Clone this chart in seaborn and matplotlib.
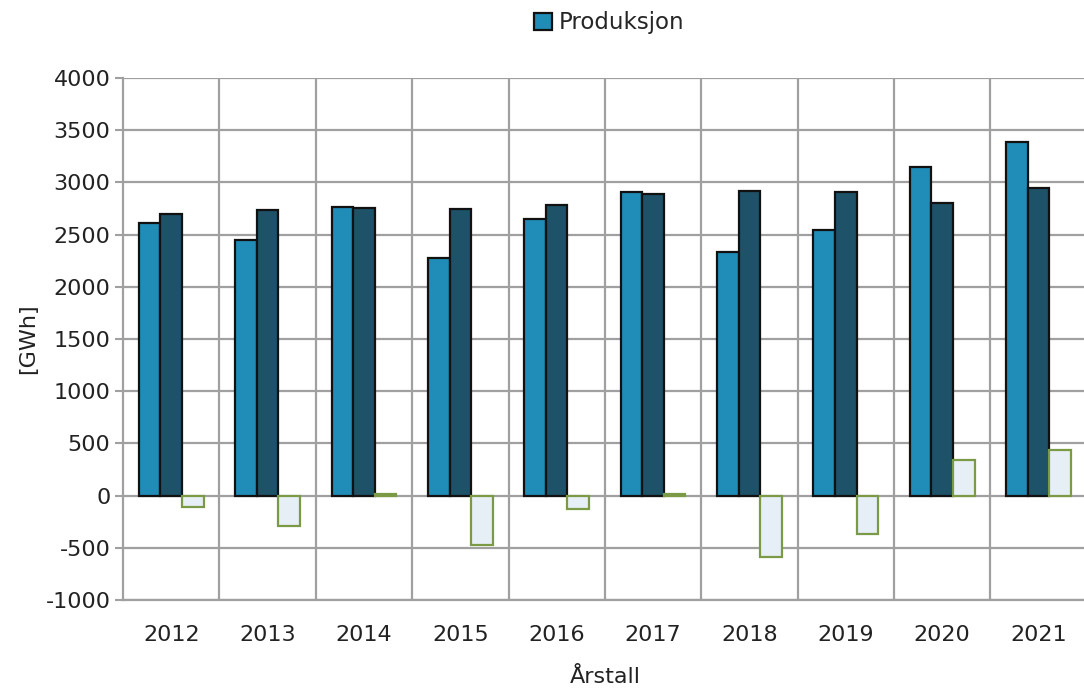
import matplotlib
matplotlib.use("Agg")
import matplotlib.pyplot as plt
import seaborn as sns
import pandas as pd
import numpy as np

years = ["2012", "2013", "2014", "2015", "2016", "2017", "2018", "2019", "2020", "2021"]
produksjon = [2610, 2445, 2767, 2280, 2650, 2905, 2336, 2547, 3148, 3391]
forbruk = [2700, 2733, 2752, 2745, 2784, 2892, 2918, 2908, 2803, 2949]
differanse = [-106, -290, 15, -473, -131, 15, -585, -365, 344, 434]
series_names = ["Produksjon", "Forbruk", "Differanse"]
y_ticks = [-1000, -500, 0, 500, 1000, 1500, 2000, 2500, 3000, 3500, 4000]

df = pd.DataFrame({
    "År": years * 3,
    "Serie": [series_names[0]] * 10 + [series_names[1]] * 10 + [series_names[2]] * 10,
    "Verdi": produksjon + forbruk + differanse,
})

sns.set_theme(style="white")
plt.rcParams["font.family"] = ["DejaVu Sans"]

fig = plt.figure(figsize=(10.84, 6.93), dpi=100)
ax = fig.add_axes([0.1135, 0.1342, 0.889, 0.7532])

face = {"Produksjon": "#1F8DB8", "Forbruk": "#1D5268", "Differanse": "#E6EEF6"}
sns.barplot(data=df, x="År", y="Verdi", hue="Serie", hue_order=series_names,
            palette=face, saturation=1, width=0.672, gap=0, dodge=True,
            legend=False, ax=ax, zorder=3)

edge = ["#111111", "#111111", "#7A9A45"]
for cont, ec in zip(ax.containers, edge):
    for p in cont:
        p.set_edgecolor(ec)
        p.set_linewidth(1.6)

ax.set_ylim(-1000, 4000)
ax.set_xlim(-0.5, 9.5)
ax.set_yticks(y_ticks)
ax.set_yticklabels([str(t) for t in y_ticks])
ax.set_xticks(np.arange(len(years)))
ax.set_xticklabels(years)
ax.set_xticks(np.arange(len(years)) + 0.5, minor=True)

gc = "#A0A0A0"
ax.yaxis.grid(True, color=gc, linewidth=1.6, zorder=0)
ax.xaxis.grid(True, which="minor", color=gc, linewidth=1.6, zorder=0)
ax.xaxis.grid(False, which="major")
ax.set_axisbelow(True)

for s in ["top", "right"]:
    ax.spines[s].set_visible(False)
ax.spines["left"].set_color(gc)
ax.spines["left"].set_linewidth(1.6)
ax.spines["bottom"].set_color(gc)
ax.spines["bottom"].set_linewidth(1.6)

ax.tick_params(axis="y", which="major", left=True, length=6, width=1.5,
               color=gc, labelsize=16, labelcolor="#222222", pad=3)
ax.tick_params(axis="x", which="both", bottom=False, labelsize=16,
               labelcolor="#222222", pad=12)

ax.set_xlabel("Årstall", fontsize=16, color="#222222", labelpad=16)
ax.set_ylabel("[GWh]", fontsize=16, color="#222222", labelpad=5)

handle = ax.containers[0][0]
fig.legend([handle], ["Produksjon"], loc="upper center", bbox_to_anchor=(0.562, 1.0),
           frameon=False, fontsize=16.5, handlelength=0.75, handleheight=0.75,
           handletextpad=0.3, borderaxespad=0.1)

fig.savefig("out.png", dpi=100)
